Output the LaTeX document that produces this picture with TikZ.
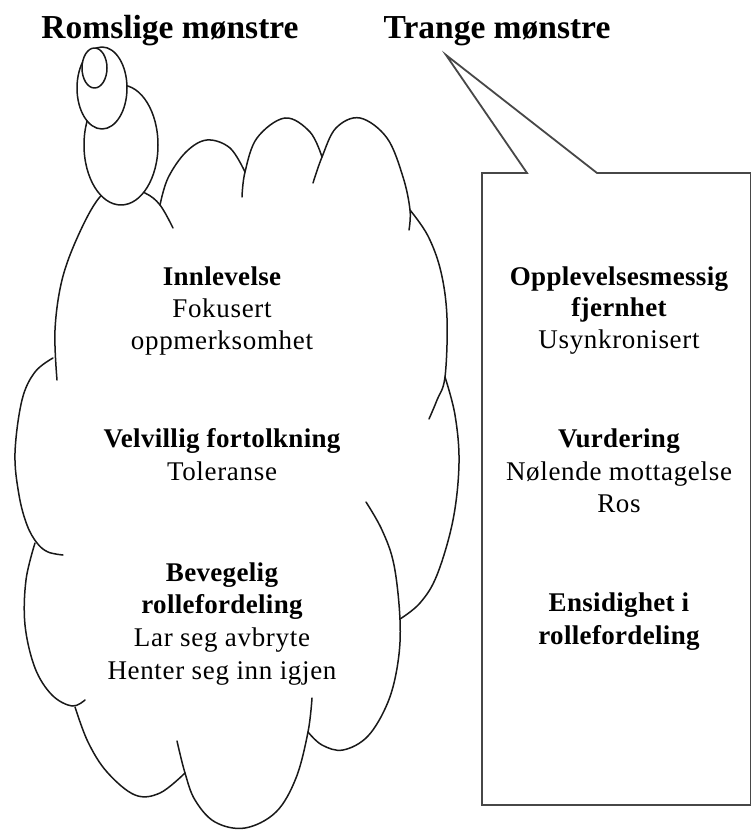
\documentclass[tikz,border=0pt]{standalone}
\usepackage{fontspec}
\setmainfont{Liberation Serif}
\newfontfamily\spacedserif[LetterSpace=2.5]{Liberation Serif}
\newfontfamily\spacedbold[LetterSpace=1.2,UprightFont=*,BoldFont=* Bold]{Liberation Serif}
\begin{document}
\begin{tikzpicture}[x=1pt,y=-1pt,
  cl/.style={line width=1.5pt, draw=black!90, line cap=round, line join=round},
  bx/.style={line width=1.8pt, draw=black!72, line join=miter},
  body/.style={font=\fontsize{27}{33}\spacedserif, anchor=base, inner sep=0pt},
  bodyb/.style={font=\fontsize{27}{33}\spacedbold\bfseries, anchor=base, inner sep=0pt},
  ttl/.style={font=\fontsize{33.5}{40}\selectfont\bfseries, anchor=base, inner sep=0pt}]
\useasboundingbox (0,0) rectangle (751,834);
\fill[white] (0,0) rectangle (751,834);

% ---- cloud bumps ----
\draw[cl] plot[smooth, tension=0.6] coordinates {(57,380) (55,330) (62,280) (78,236) (99,198) (120,185) (145,193) (160,205) (173,228)};
\draw[cl] plot[smooth, tension=0.6] coordinates {(160,205) (168,178) (186,152) (207,140) (230,148) (245,172)};
\draw[cl] plot[smooth, tension=0.6] coordinates {(242,197) (245,172) (257,138) (285,118) (310,132) (322,157)};
\draw[cl] plot[smooth, tension=0.6] coordinates {(313,183) (322,157) (336,128) (360,118) (387,138) (403,177) (410,210) (409,230)};
\draw[cl] plot[smooth, tension=0.6] coordinates {(410,210) (428,236) (441,272) (447,318) (445,377) (437,400) (429,419)};
\draw[cl] plot[smooth, tension=0.6] coordinates {(445,377) (455,415) (459,463) (453,520) (437,575) (420,603) (400,619)};
\draw[cl] plot[smooth, tension=0.6] coordinates {(366,502) (382,530) (394,565) (400,620) (398,662) (388,702) (368,736) (343,750) (322,745) (308,732)};
\draw[cl] plot[smooth, tension=0.6] coordinates {(312,698) (308,732) (296,778) (276,812) (245,828) (215,822) (195,800) (185,773) (177,741)};
\draw[cl] plot[smooth, tension=0.6] coordinates {(75,707) (88,742) (107,772) (135,795) (160,793) (185,773)};
\draw[cl] plot[smooth, tension=0.6] coordinates {(35,543) (26,580) (25,625) (35,668) (52,695) (72,706) (85,700)};
\draw[cl] plot[smooth, tension=0.6] coordinates {(53,358) (35,372) (22,400) (15,453) (19,495) (27,525) (37,543) (48,552) (63,555)};

% ---- thought bubbles ----
\draw[cl, fill=white] (121,145) ellipse [x radius=37, y radius=60];
\draw[cl, fill=white] (102,88) ellipse [x radius=25, y radius=41];
\draw[cl, fill=white] (94.5,68) ellipse [x radius=12.5, y radius=20];

% ---- speech callout ----
\coordinate (tip) at (446,55);
\draw[bx] (482,173) -- (527,173) -- (tip) -- (597,173) -- (751,173) -- (751,805) -- (482,805) -- cycle;

% ---- titles ----
\node[ttl] (t1) at (170,39) {Romslige mønstre};
\node[ttl] (t2) at (497,39) {Trange mønstre};

% ---- cloud text ----
\node[bodyb] (l1) at (222,285) {Innlevelse};
\node[body]  (l2) at (222,317) {Fokusert};
\node[body]  (l3) at (222,349) {oppmerksomhet};
\node[bodyb] (l4) at (222,447) {Velvillig fortolkning};
\node[body]  (l5) at (222,480) {Toleranse};
\node[bodyb] (l6) at (222,581) {Bevegelig};
\node[bodyb] (l7) at (222,613) {rollefordeling};
\node[body]  (l8) at (222,646) {Lar seg avbryte};
\node[body]  (l9) at (222,679) {Henter seg inn igjen};

% ---- box text ----
\node[bodyb] (r1) at (619,285) {Opplevelsesmessig};
\node[bodyb] (r2) at (619,316) {fjernhet};
\node[body]  (r3) at (619,348) {Usynkronisert};
\node[bodyb] (r4) at (619,447) {Vurdering};
\node[body]  (r5) at (619,480) {Nølende mottagelse};
\node[body]  (r6) at (619,512) {Ros};
\node[bodyb] (r7) at (619,611) {Ensidighet i};
\node[bodyb] (r8) at (619,644) {rollefordeling};
\end{tikzpicture}
\end{document}
